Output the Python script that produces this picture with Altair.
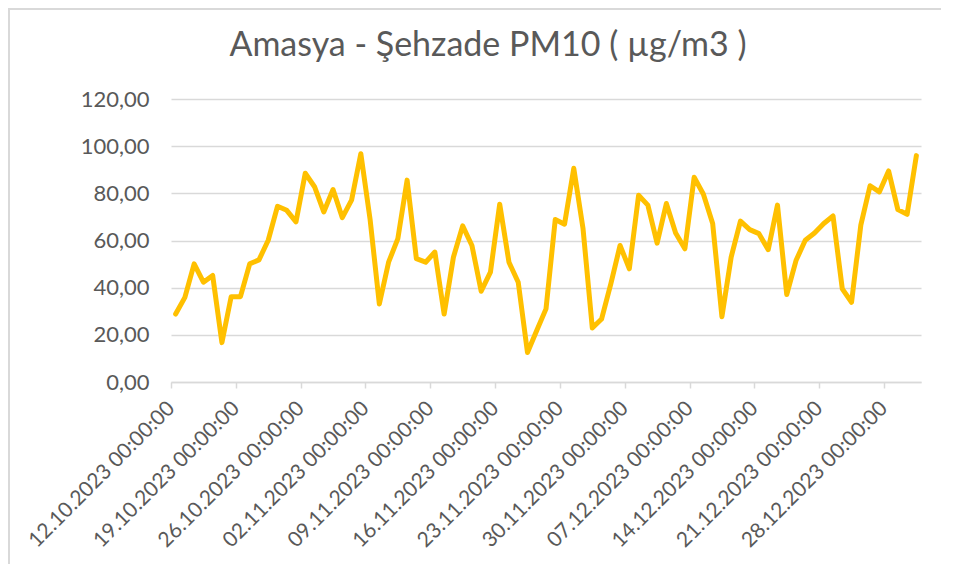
import altair as alt
import pandas as pd

# ---- data ----
start_date = "2023-10-12"
pm10 = [28.8, 35.9, 50.1, 42.3, 45.2, 16.7, 36.2, 36.2, 50.1, 51.8,
        60.1, 74.5, 72.8, 67.9, 88.5, 82.8, 72.1, 81.6, 69.7, 77.1,
        96.8, 69.0, 33.1, 50.8, 60.8, 85.6, 52.3, 50.8, 55.1, 28.8,
        52.9, 66.2, 57.9, 38.5, 46.6, 75.4, 50.8, 42.3, 12.5, 21.8,
        31.0, 68.9, 66.9, 90.6, 65.0, 22.9, 26.7, 41.6, 57.9, 48.0,
        79.2, 75.0, 58.9, 75.7, 63.2, 56.5, 86.8, 79.6, 67.2, 27.7,
        53.0, 68.2, 64.6, 62.9, 56.1, 75.0, 37.1, 51.5, 60.1, 63.2,
        67.2, 70.4, 39.5, 33.8, 66.5, 83.2, 80.6, 89.5, 73.1, 71.1,
        96.0]
tick_days = [(2023, 10, 12), (2023, 10, 19), (2023, 10, 26), (2023, 11, 2),
             (2023, 11, 9), (2023, 11, 16), (2023, 11, 23), (2023, 11, 30),
             (2023, 12, 7), (2023, 12, 14), (2023, 12, 21), (2023, 12, 28)]
y_ticks = [0, 20, 40, 60, 80, 100, 120]
title_text = "Amasya - Şehzade PM10 ( µg/m3 )"

dates = pd.date_range(start_date, periods=len(pm10), freq="D")
df = pd.DataFrame({
    "date": [d.strftime("%Y-%m-%dT12:00:00") for d in dates],
    "pm10": pm10,
})

FONT = "Lato"
TXT = "#595959"
GRID = "#D9D9D9"

x_enc = alt.X(
    "date:T",
    scale=alt.Scale(domain=[alt.DateTime(year=2023, month=10, date=12),
                            alt.DateTime(year=2024, month=1, date=1)]),
    axis=alt.Axis(
        values=[alt.DateTime(year=y, month=m, date=d) for (y, m, d) in tick_days],
        format="%d.%m.%Y %H:%M:%S",
        labelAngle=315,
        labelAlign="right",
        labelBaseline="middle",
        labelPadding=17,
        labelLimit=0,
        labelFont=FONT,
        labelFontSize=21,
        labelColor=TXT,
        labelOverlap=False,
        domainColor=GRID,
        domainWidth=1.5,
        tickColor=GRID,
        tickWidth=1.5,
        tickSize=6,
        grid=False,
        title=None,
    ),
)
y_enc = alt.Y(
    "pm10:Q",
    scale=alt.Scale(domain=[0, 120]),
    axis=alt.Axis(
        values=y_ticks,
        labelExpr="replace(format(datum.value, '.2f'), '.', ',')",
        labelFont=FONT,
        labelFontSize=22,
        labelColor=TXT,
        labelPadding=22,
        ticks=False,
        domain=False,
        gridColor=GRID,
        gridWidth=1.5,
        title=None,
    ),
)

line = alt.Chart(df).mark_line(
    color="#FFC000", strokeWidth=5, strokeJoin="round", strokeCap="round"
).encode(x=x_enc, y=y_enc)

border = alt.Chart(alt.Data(values=[{"k": 1}])).mark_rect(
    fillOpacity=0, stroke=GRID, strokeWidth=2
).encode(
    x=alt.value(-162), x2=alt.value(900),
    y=alt.value(-90), y2=alt.value(466),
)

chart = alt.layer(border, line).properties(
    width=750,
    height=283,
    autosize="none",
    padding={"left": 163, "top": 91, "right": 20, "bottom": 182},
    title=alt.Title(
        title_text, font=FONT, fontSize=34, fontWeight="normal",
        color=TXT, anchor="middle", dx=-58, offset=30, dy=85,
    ),
).configure_view(strokeWidth=0)

chart.save("out.html", embed_options={"renderer": "svg", "actions": False})
